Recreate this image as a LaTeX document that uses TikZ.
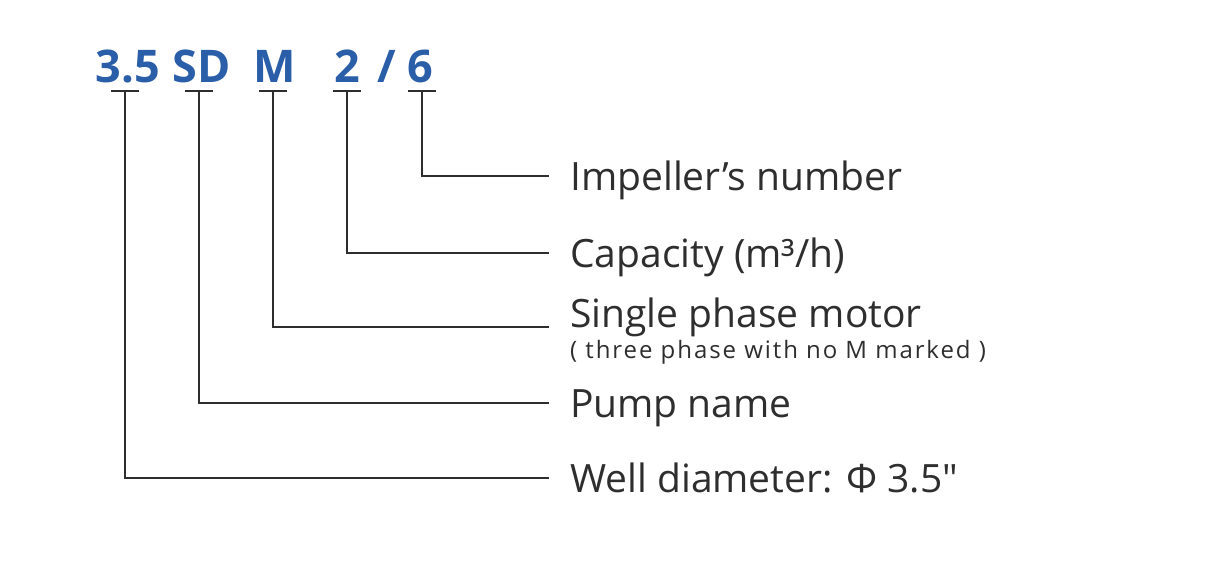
\documentclass[tikz,border=0pt]{standalone}
\usepackage{fontspec}
\setmainfont{Open Sans}[Ligatures=TeXOff]
\definecolor{codeblue}{HTML}{2A5EA8}
\definecolor{inkgray}{HTML}{2E2E2E}
\tikzset{
  code/.style={anchor=base, inner sep=0pt, text=codeblue, font=\bfseries\fontsize{45}{50}\selectfont},
  label/.style={anchor=west, inner sep=0pt, text=inkgray, text height=28pt, text depth=0pt, font=\fontsize{39}{44}\selectfont},
  note/.style={anchor=base west, inner sep=0pt, text=inkgray, font=\addfontfeature{LetterSpace=8}\fontsize{24}{28}\selectfont},
  lead/.style={draw=inkgray, line width=2pt}
}
\begin{document}
\begin{tikzpicture}[x=1pt, y=-1pt]
\useasboundingbox (0,0) rectangle (1222,578);

\node (c35)[code] at (128, 82) {3.5};
\node (csd)[code] at (202, 82) {SD};
\node (cm)[code] at (275, 82) {M};
\node (c2)[code] at (347, 82) {2};
\node (cslash)[code] at (387, 82) {/};
\node (c6)[code] at (420, 82) {6};

\coordinate (t35) at (125, 91);
\coordinate (tsd) at (199, 91);
\coordinate (tm) at (273, 91);
\coordinate (t2) at (347, 91);
\coordinate (t6) at (422, 91);

\node (impeller)[label] at (570, 176) {Impeller’s number};
\node (capacity)[label] at (570, 253) {Capacity (m³/h)};
\node (motor)[label, text height=0pt] at (570, 327) {Single phase motor};
\node (phase)[note] at (570, 358) {( three phase with no M marked )};
\node (pump)[label] at (570, 403) {Pump name};
\node (well)[label] at (570, 478) {Well diameter: Φ 3.5"};

\draw[lead] ([xshift=-14]t35) -- ([xshift=14]t35);
\draw[lead] ([xshift=-14]tsd) -- ([xshift=14]tsd);
\draw[lead] ([xshift=-14]tm) -- ([xshift=14]tm);
\draw[lead] ([xshift=-14]t2) -- ([xshift=14]t2);
\draw[lead] ([xshift=-14]t6) -- ([xshift=14]t6);

\draw[lead] (t6) |- ([xshift=-21]impeller.west);
\draw[lead] (t2) |- ([xshift=-21]capacity.west);
\draw[lead] (tm) |- ([xshift=-21]motor.west);
\draw[lead] (tsd) |- ([xshift=-21]pump.west);
\draw[lead] (t35) |- ([xshift=-21]well.west);

\end{tikzpicture}
\end{document}
